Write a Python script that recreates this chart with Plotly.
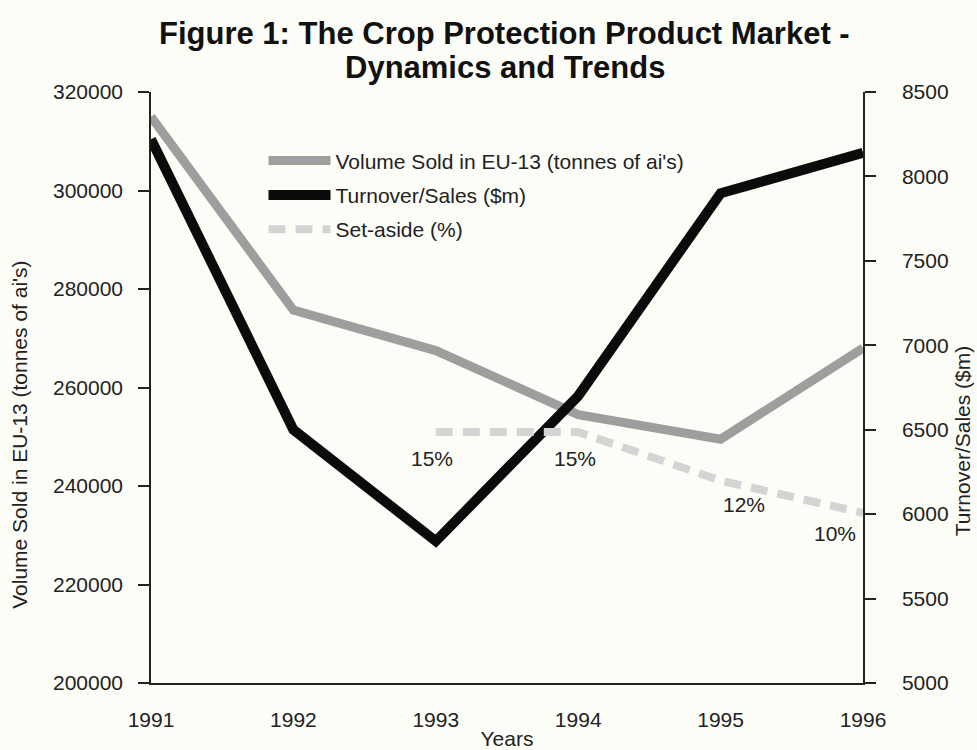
import plotly.graph_objects as go

# ---- data ----
years = [1991, 1992, 1993, 1994, 1995, 1996]
volume_t = [315000, 275700, 267500, 254500, 249500, 268000]   # tonnes of active ingredients
turnover_m = [8220, 6500, 5840, 6700, 7900, 8140]              # $m
setaside_years = [1993, 1994, 1995, 1996]
setaside_pct = [15, 15, 12, 10]
setaside_labels = ["15%", "15%", "12%", "10%"]
left_ticks = [200000, 220000, 240000, 260000, 280000, 300000, 320000]
right_ticks = [5000, 5500, 6000, 6500, 7000, 7500, 8000, 8500]
title_lines = ["Figure 1: The Crop Protection Product Market -", "Dynamics and Trends"]

BG = "#fdfdf8"
INK = "#222222"
FONT = "Liberation Sans, Arial, Helvetica, sans-serif"
FS = 21

fig = go.Figure()

fig.add_trace(go.Scatter(
    x=years, y=volume_t, mode="lines", yaxis="y", legendgroup="vol",
    name="Volume Sold in EU-13 (tonnes of ai's)",
    line=dict(color="#9e9e9e", width=9),
))
fig.add_trace(go.Scatter(
    x=years, y=turnover_m, mode="lines", yaxis="y2", legendgroup="turn",
    name="Turnover/Sales ($m)",
    line=dict(color="#0b0b0b", width=10),
))
fig.add_trace(go.Scatter(
    x=setaside_years, y=setaside_pct, mode="lines", yaxis="y3", legendgroup="set",
    name="Set-aside (%)",
    line=dict(color="#d4d4d4", width=8, dash="17px,10px"),
))

# percentage labels under the set-aside line
label_shift = [(-4, -26), (-3, -26), (23, -24), (-28, -21)]
for xv, yv, txt, (dx, dy) in zip(setaside_years, setaside_pct, setaside_labels, label_shift):
    fig.add_annotation(x=xv, y=yv, xref="x", yref="y3", text=txt, showarrow=False,
                       xshift=dx, yshift=dy, font=dict(size=FS, color=INK, family=FONT))

# rotated axis titles
fig.add_annotation(x=-0.184, y=0.42, xref="paper", yref="paper", textangle=-90,
                   xanchor="center", yanchor="middle",
                   text="Volume Sold in EU-13 (tonnes of ai's)", showarrow=False,
                   font=dict(size=FS, color=INK, family=FONT))
fig.add_annotation(x=1.14, y=0.41, xref="paper", yref="paper", textangle=-90,
                   xanchor="center", yanchor="middle",
                   text="Turnover/Sales ($m)", showarrow=False,
                   font=dict(size=FS, color=INK, family=FONT))

# two-line heading above the plot
for line_text, ypos in zip(title_lines, [1.0998, 1.0423]):
    fig.add_annotation(
        x=0.497, y=ypos, xref="paper", yref="paper", xanchor="center", yanchor="middle",
        text=f"<b>{line_text}</b>", showarrow=False,
        font=dict(family="Liberation Sans, Arial, sans-serif", size=31, color="#111111"),
    )

fig.update_layout(
    width=977, height=750,
    margin=dict(l=151, r=114, t=92, b=67, autoexpand=False),
    paper_bgcolor=BG, plot_bgcolor=BG,
    font=dict(family=FONT, color=INK, size=FS),
    showlegend=True,
    legend=dict(
        x=0.158, y=0.918, xanchor="left", yanchor="top",
        bgcolor="rgba(0,0,0,0)", font=dict(size=21, color=INK, family=FONT),
        traceorder="grouped", tracegroupgap=4, itemwidth=62,
    ),
    xaxis=dict(
        range=[1991, 1996], tickvals=years, showgrid=False, zeroline=False,
        showline=True, linecolor=INK, linewidth=1.5, ticks="", automargin=False,
        ticklabelstandoff=17, tickfont=dict(size=FS),
        title=dict(text="Years", font=dict(size=FS), standoff=10),
    ),
    yaxis=dict(
        range=[200000, 320000], tickvals=left_ticks, tickformat="d",
        showgrid=False, zeroline=False, automargin=False,
        showline=True, linecolor=INK, linewidth=1.5, ticks="outside", ticklen=11,
        tickcolor=INK, tickwidth=1.5, ticklabelstandoff=11, tickfont=dict(size=FS),
    ),
    yaxis2=dict(
        range=[5000, 8500], tickvals=right_ticks, tickformat="d",
        overlaying="y", side="right", automargin=False,
        showgrid=False, zeroline=False, showline=True, linecolor=INK, linewidth=1.5,
        ticks="outside", ticklen=11, tickcolor=INK, tickwidth=1.5,
        ticklabelstandoff=22, tickfont=dict(size=FS),
    ),
    yaxis3=dict(
        range=[-0.5, 36], overlaying="y", visible=False,
    ),
)

fig.write_html("out.html")
